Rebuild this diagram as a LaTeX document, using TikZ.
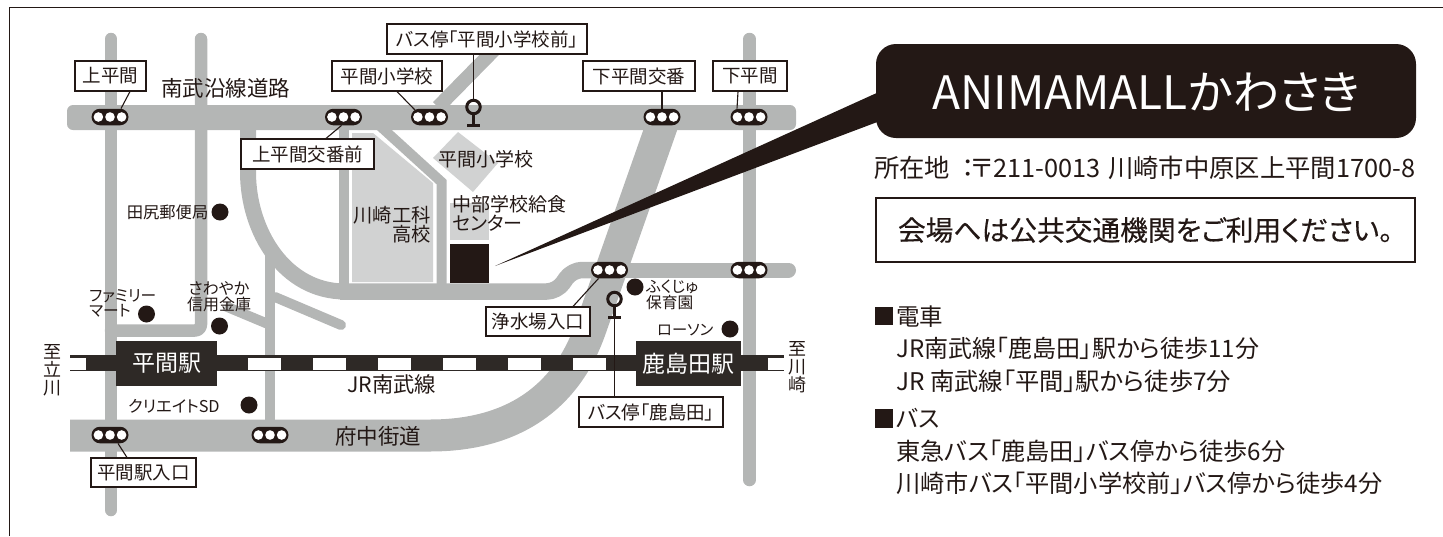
\documentclass[tikz,border=0pt]{standalone}
\usepackage{fontspec}
\usepackage{graphicx}
\setmainfont[RawFeature=+palt]{Noto Sans CJK JP}
\usetikzlibrary{calc,shapes.misc}
\definecolor{roadc}{HTML}{B4B6B5}
\definecolor{lightc}{HTML}{D1D2D2}
\definecolor{inkc}{HTML}{231815}
\definecolor{railc}{HTML}{2E2926}
\newcommand\fs[1]{\fontsize{#1}{#1}\selectfont}
\newcommand\fitw[2]{\resizebox{#1pt}{!}{#2}}
\tikzset{
  road/.style={draw=roadc,line join=round},
  pillbox/.style={rounded rectangle,fill=inkc,minimum width=37pt,minimum height=16.5pt,inner sep=0pt},
  lamp/.style={circle,fill=white,minimum size=9.6pt,inner sep=0pt},
  dotmark/.style={circle,fill=inkc,minimum size=17pt,inner sep=0pt},
  lbl/.style={draw=inkc,line width=1.1pt,fill=white,inner sep=0pt,text=inkc,font=\fs{18.5}},
  leader/.style={draw=inkc,line width=1.1pt},
  txt/.style={inner sep=0pt,text=inkc},
  ring/.style={circle,draw=inkc,line width=3pt,minimum size=13.5pt,inner sep=0pt},
  dash box/.style={fill=white,minimum width=33pt,minimum height=12pt,inner sep=0pt},
  station/.style={fill=railc,text=white,inner sep=0pt,minimum height=45pt,font=\fs{23}},
}
\newcommand\pill[2]{%
  \node[pillbox] (#1) at (#2) {};
  \node[lamp] (#1a) at ($(#1)+(-11.6,0)$) {};
  \node[lamp] (#1b) at (#1) {};
  \node[lamp] (#1c) at ($(#1)+(11.6,0)$) {};
}
\begin{document}
\begin{tikzpicture}[x=1pt,y=-1pt]
\useasboundingbox (0,0) rectangle (1443,536);
% frame
\draw[draw=inkc,line width=.8pt] (9,536) -- (9,7.5) -- (1443,7.5);
% roads
\fill[roadc,rounded corners=6pt] (67,105) rectangle (796,130);
\draw[road,line width=12.5pt,line cap=round] (111,39) -- (111,510);
\draw[road,line width=12.5pt,line cap=round] (749.5,39) -- (749.5,480);
\draw[road,line width=12.5pt,line cap=round,rounded corners=6pt] (201,39) -- (201,330.5) -- (111,330.5);
\draw[road,line width=16pt] (248,125) -- (248,172) .. controls (248,232) and (285,291.5) .. (345,291.5);
\draw[road,line width=16.5pt,rounded corners=10pt] (340,291.5) -- (557,291.5) -- (572,270) -- (600,270);
\draw[road,line width=15pt,line cap=round] (590,270) -- (788.5,270);
\draw[road,line width=10pt] (343.5,125) -- (343.5,292);
\draw[road,line width=10pt] (270,250) -- (270,425);
\draw[road,line width=10pt,line cap=round] (275,297) -- (341,325);
\draw[road,line width=10pt] (225,306) -- (268,324);
\draw[road,line width=10pt,line join=miter] (380,126) -- (441.5,182) -- (441.5,292);
\draw[road,line width=14pt] (438,107) -- (494,50);
\draw[road,line width=32pt] (662,125) -- (590,330) .. controls (565,400) and (510,435.5) .. (430,435.5) -- (70,435.5);
% buildings
\fill[lightc] (352,133) -- (373,133) -- (433,183) -- (433,282) -- (352,282) -- cycle;
\fill[lightc] (458,132) -- (498,163) -- (473,192) -- (433,158) -- cycle;
\fill[lightc] (450,203) rectangle (489,240);
\fill[inkc] (450,244) rectangle (489,283);
% railway
\fill[railc] (70,355) rectangle (784,371);
\fill[white] (70,358) rectangle (86,369.5);
\fill[white] (768,358) rectangle (784,369.5);
\foreach \xx in {264.5,329.5,394.5,459.5,524.5,589.5}
  \node[dash box] at (\xx,363.5) {};
\node[station,minimum width=101pt] (stHirama) at (166.5,363.5) {平間駅};
\node[station,minimum width=105pt] (stKashima) at (688.5,363.5) {鹿島田駅};
% signals
\pill{sigKami}{110,117}
\pill{sigKoban}{343.5,117}
\pill{sigSchool}{429.5,117}
\pill{sigShimoK}{662,117}
\pill{sigShimo}{749,117}
\pill{sigJosui}{609.5,270}
\pill{sigEast}{749,270}
\pill{sigEntry}{110,435}
\pill{sigFuchu}{270,435}
% bus stops
\node[ring] (busTop) at (473.5,107) {};
\coordinate (busTopBase) at (473.5,125);
\draw[inkc,line width=2.6pt] (busTop.south) -- (busTopBase);
\draw[inkc,line width=3pt] (467,125) -- (480,125);
\node[ring] (busLow) at (614.5,299) {};
\coordinate (busLowBase) at (614.5,317);
\draw[inkc,line width=2.6pt] (busLow.south) -- (busLowBase);
\draw[inkc,line width=3pt] (608,317) -- (621,317);
% dots
\node[dotmark] (dotPost) at (220,212) {};
\node[dotmark] (dotFM) at (146.5,314) {};
\node[dotmark] (dotBank) at (219.5,326) {};
\node[dotmark] (dotSD) at (249,405) {};
\node[dotmark] (dotNursery) at (635,287) {};
\node[dotmark] (dotLawson) at (730,329) {};
% labels
\node[lbl,minimum width=71pt,minimum height=30pt] (lKami) at (110.5,76) {上平間};
\node[lbl,minimum width=110pt,minimum height=30pt] (lSchool) at (387,76) {平間小学校};
\node[lbl,minimum width=200pt,minimum height=30pt] (lBusTop) at (487,39) {バス停「平間小学校前」};
\node[lbl,minimum width=112pt,minimum height=30pt] (lShimoK) at (639,76) {下平間交番};
\node[lbl,minimum width=74pt,minimum height=30pt] (lShimo) at (750,76) {下平間};
\node[lbl,minimum width=133pt,minimum height=30pt] (lKoban) at (307.5,154) {上平間交番前};
\node[lbl,minimum width=105pt,minimum height=29pt] (lEntry) at (143.5,472.5) {平間駅入口};
\node[lbl,minimum width=104pt,minimum height=29pt] (lJosui) at (538,321.5) {浄水場入口};
\node[lbl,minimum width=144pt,minimum height=30pt] (lBusLow) at (651,412) {バス停「鹿島田」};
% leaders
\draw[leader] ([xshift=19.5pt]lKami.south) -- ([xshift=11pt]sigKami.north);
\draw[leader] ([xshift=10pt]lSchool.south) -- ([xshift=-14pt,yshift=-2pt]sigSchool.north);
\draw[leader] (lBusTop.south -| busTop.north) -- (busTop.north);
\draw[leader] (lShimoK.south -| sigShimoK.north) -- (sigShimoK.north);
\draw[leader] ([xshift=-12pt]lShimo.south) -- ([xshift=-12pt]sigShimo.north);
\draw[leader] ([xshift=18.5pt]lKoban.north) -- ([xshift=-2pt]sigKoban.south);
\draw[leader] ([xshift=-16.5pt]lEntry.north) -- ([xshift=8pt]sigEntry.south);
\draw[leader] ([xshift=35pt]lJosui.north) -- ([xshift=-11pt]sigJosui.south);
\draw[leader] (busLowBase) -- (lBusLow.north -| busLowBase);
% map text
\node[txt,anchor=west,font=\fs{21.5}] (tRoadN) at (161,88.5) {南武沿線道路};
\node[txt,anchor=east,font=\fs{16.3}] (tPost) at (208.5,212) {田尻郵便局};
\node[txt,anchor=north west,align=left,font=\fs{15.7}] (tFM) at (89,289) {ファミリー\\マート};
\node[txt,anchor=north,align=center,font=\fs{16}] (tBank) at (219,281) {さわやか\\信用金庫};
\node[txt,anchor=west,font=\fs{16.3}] (tSD) at (128,406) {クリエイトSD};
\node[txt,anchor=west,font=\fs{21.3}] (tRail) at (347,384.5) {JR南武線};
\node[txt,anchor=west,font=\fs{21.5}] (tFuchu) at (335,436) {府中街道};
\node[txt,font=\fs{19}] (tDia) at (486,159) {平間小学校};
\node[txt,anchor=east,align=right,font=\fs{19.3}] (tTech) at (431,225) {川崎工科\\高校};
\node[txt,anchor=west,align=left,font=\fs{19}] (tKyushoku) at (452,213) {中部学校給食\\センター};
\node[txt,anchor=west,align=left,font=\fs{15.7}] (tNursery) at (646,295) {ふくじゅ\\保育園};
\node[txt,anchor=west,font=\fs{15.3}] (tLawson) at (657,330) {ローソン};
\node[txt,align=center,font=\fs{18}] (tTachi) at (52,370) {至\\立\\川};
\node[txt,align=center,font=\fs{18}] (tKawa) at (797,367) {至\\川\\崎};
% callout
\fill[inkc] (495,266) -- (880,91.5) -- (880,121) -- cycle;
\node[fill=inkc,rounded corners=20pt,minimum width=540pt,minimum height=94pt,inner sep=0pt] (callout) at (1146,91) {};
\node[anchor=base west,inner sep=0pt,text=white,font=\fs{45}] (tName) at (932,109) {\fitw{428}{ANIMAMALLかわさき}};
\node[txt,anchor=west,font=\fs{25}] (tAddr) at (874,167.5) {\fitw{541}{所在地\hspace{.45em}：\hspace{-.1em}〒211-0013\hspace{.3em}川崎市中原区上平間1700-8}};
\node[draw=inkc,line width=2.4pt,fill=white,text=inkc,inner sep=0pt,minimum width=539pt,minimum height=64pt] (boxNote) at (1145.5,230) {\fs{27}\addfontfeature{FakeBold=0.25}\fitw{495}{会場へは公共交通機関をご利用ください。}};
% access list
\fill[inkc] (875,307) rectangle (893,325);
\node[txt,anchor=west,font=\fs{23.5}] (tTrain) at (896,317) {電車};
\node[txt,anchor=west,font=\fs{24}] (tL1) at (896,348) {\fitw{363}{JR南武線「鹿島田」駅から徒歩11分}};
\node[txt,anchor=west,font=\fs{24}] (tL2) at (896,381) {\fitw{335}{JR 南武線「平間」駅から徒歩7分}};
\fill[inkc] (875,409) rectangle (893,428);
\node[txt,anchor=west,font=\fs{23.5}] (tBus) at (896,418) {バス};
\node[txt,anchor=west,font=\fs{24}] (tL3) at (896,451) {\fitw{389}{東急バス「鹿島田」バス停から徒歩6分}};
\node[txt,anchor=west,font=\fs{24}] (tL4) at (896,483) {\fitw{486}{川崎市バス「平間小学校前」バス停から徒歩4分}};
\end{tikzpicture}
\end{document}
